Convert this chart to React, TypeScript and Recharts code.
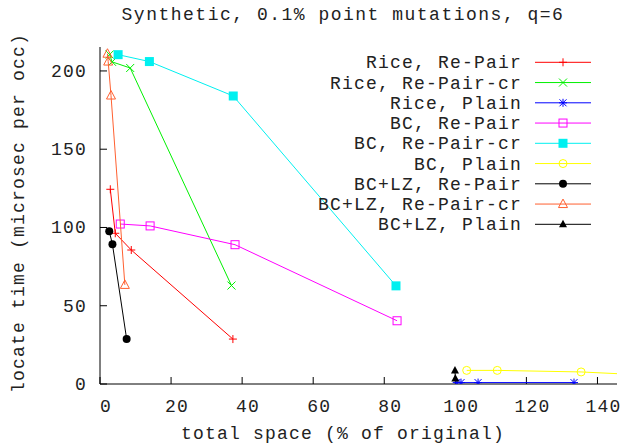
import React from 'react';
import { ScatterChart, Scatter, XAxis, YAxis } from 'recharts';

const FONT = '"Liberation Mono", "DejaVu Sans Mono", monospace';
const FS = 18;
const LS = 1.2;

const riceRePair = [
  { x: 2.9, y: 124.4 }, { x: 4.3, y: 96.3 }, { x: 8.8, y: 85.6 }, { x: 37.4, y: 28.7 },
];
const riceRePairCr = [
  { x: 2.7, y: 210.5 }, { x: 3.4, y: 205.8 }, { x: 8.5, y: 201.9 }, { x: 37.0, y: 62.9 },
];
const ricePlain = [
  { x: 100.4, y: 0.9 }, { x: 101.6, y: 0.9 }, { x: 106.4, y: 0.9 }, { x: 133.4, y: 0.9 },
];
const bcRePair = [
  { x: 5.7, y: 102.2 }, { x: 14.1, y: 101.0 }, { x: 38.0, y: 89.0 }, { x: 83.6, y: 40.4 },
];
const bcRePairCr = [
  { x: 5.1, y: 210.4 }, { x: 13.9, y: 206.0 }, { x: 37.5, y: 184.0 }, { x: 83.3, y: 62.7 },
];
const bcPlain = [
  { x: 103.2, y: 8.7 }, { x: 111.8, y: 8.7 }, { x: 135.4, y: 7.7 }, { x: 165.0, y: 4.5 },
];
const bclzRePair = [
  { x: 2.6, y: 97.6 }, { x: 3.5, y: 89.3 }, { x: 7.5, y: 28.7 },
];
const bclzRePairCr = [
  { x: 2.1, y: 211.0 }, { x: 2.3, y: 206.0 }, { x: 3.1, y: 184.3 }, { x: 7.0, y: 63.3 },
];
const bclzPlain = [
  { x: 99.9, y: 8.7 }, { x: 100.0, y: 3.5 },
];

const xTicks = [0, 20, 40, 60, 80, 100, 120, 140];
const yTicks = [0, 50, 100, 150, 200];

const seriesNames = [
  'Rice, Re-Pair', 'Rice, Re-Pair-cr', 'Rice, Plain',
  'BC, Re-Pair', 'BC, Re-Pair-cr', 'BC, Plain',
  'BC+LZ, Re-Pair', 'BC+LZ, Re-Pair-cr', 'BC+LZ, Plain',
];
const seriesData = [
  riceRePair, riceRePairCr, ricePlain, bcRePair, bcRePairCr, bcPlain,
  bclzRePair, bclzRePairCr, bclzPlain,
];
const seriesColors = [
  '#ff0000', '#00f000', '#0000ff', '#ff00ff', '#00f0f0', '#ffff00',
  '#000000', '#ff6030', '#000000',
];
const seriesMarkers = [
  'plus', 'cross', 'star', 'square', 'squareFilled', 'circle',
  'circleFilled', 'triangle', 'triangleFilled',
];

function Marker({ kind, cx, cy, color }: { kind: string; cx: number; cy: number; color: string }) {
  const s = 4;
  switch (kind) {
    case 'plus':
      return (
        <g stroke={color} strokeWidth={1}>
          <line x1={cx - s} y1={cy} x2={cx + s} y2={cy} />
          <line x1={cx} y1={cy - s} x2={cx} y2={cy + s} />
        </g>
      );
    case 'cross':
      return (
        <g stroke={color} strokeWidth={1}>
          <line x1={cx - s} y1={cy - s} x2={cx + s} y2={cy + s} />
          <line x1={cx - s} y1={cy + s} x2={cx + s} y2={cy - s} />
        </g>
      );
    case 'star':
      return (
        <g stroke={color} strokeWidth={1}>
          <line x1={cx - s} y1={cy} x2={cx + s} y2={cy} />
          <line x1={cx} y1={cy - s} x2={cx} y2={cy + s} />
          <line x1={cx - 3.5} y1={cy - 3.5} x2={cx + 3.5} y2={cy + 3.5} />
          <line x1={cx - 3.5} y1={cy + 3.5} x2={cx + 3.5} y2={cy - 3.5} />
        </g>
      );
    case 'square':
      return <rect x={cx - 4} y={cy - 4} width={8} height={8} fill="none" stroke={color} strokeWidth={1} />;
    case 'squareFilled':
      return <rect x={cx - 4.5} y={cy - 4.5} width={9} height={9} fill={color} stroke="none" />;
    case 'circle':
      return <circle cx={cx} cy={cy} r={4} fill="none" stroke={color} strokeWidth={1} />;
    case 'circleFilled':
      return <circle cx={cx} cy={cy} r={4} fill={color} stroke="none" />;
    case 'triangle':
      return (
        <polygon
          points={`${cx},${cy - 5} ${cx - 4.5},${cy + 3.5} ${cx + 4.5},${cy + 3.5}`}
          fill="none" stroke={color} strokeWidth={1}
        />
      );
    case 'triangleFilled':
      return (
        <polygon
          points={`${cx},${cy - 4.5} ${cx - 4},${cy + 3} ${cx + 4},${cy + 3}`}
          fill={color} stroke="none"
        />
      );
    default:
      return null;
  }
}

const XTick = (props: any) => {
  const { x, y, payload } = props;
  return (
    <text x={x + 6} y={y} dy={13} textAnchor="middle" fontFamily={FONT} fontSize={FS} letterSpacing={LS} fill="#222">
      {payload.value}
    </text>
  );
};

const YTick = (props: any) => {
  const { x, y, payload } = props;
  return (
    <text x={x} y={y} dy={6} textAnchor="end" fontFamily={FONT} fontSize={FS} letterSpacing={LS} fill="#222">
      {payload.value}
    </text>
  );
};

const legendTop = 62.3;
const legendStep = 20.25;

export default function App() {
  return (
    <div style={{ position: 'absolute', left: 0, top: 0, width: 624, height: 444, background: '#fff' }}>
      <ScatterChart width={624} height={444} margin={{ top: 47, right: 7, left: 0, bottom: 0 }}>
        <XAxis
          xAxisId={0}
          type="number"
          dataKey="x"
          domain={[0, 145.5]}
          allowDataOverflow
          ticks={xTicks}
          height={60}
          stroke="#000"
          tickSize={-7}
          tickMargin={22}
          tick={<XTick />}
          interval={0}
        />
        <XAxis
          xAxisId="top"
          orientation="top"
          type="number"
          domain={[0, 145.5]}
          allowDataOverflow
          ticks={xTicks}
          height={0}
          stroke="#000"
          tickSize={-7}
          tick={false}
          interval={0}
        />
        <YAxis
          yAxisId={0}
          type="number"
          dataKey="y"
          domain={[0, 215.3]}
          allowDataOverflow
          ticks={yTicks}
          width={100}
          stroke="#000"
          tickSize={-7}
          tickMargin={20}
          tick={<YTick />}
          interval={0}
        />
        <YAxis
          yAxisId="right"
          orientation="right"
          type="number"
          domain={[0, 215.3]}
          allowDataOverflow
          ticks={yTicks}
          width={0}
          stroke="#000"
          tickSize={-7}
          tick={false}
          interval={0}
        />
        {seriesData.map((d, i) => (
          <Scatter
            key={seriesNames[i]}
            name={seriesNames[i]}
            data={d}
            xAxisId={0}
            yAxisId={0}
            fill={seriesColors[i]}
            line={{ stroke: seriesColors[i], strokeWidth: 1 }}
            isAnimationActive={false}
            shape={(p: any) => <Marker kind={seriesMarkers[i]} cx={p.cx} cy={p.cy} color={seriesColors[i]} />}
          />
        ))}
      </ScatterChart>
      <svg
        width={624}
        height={444}
        style={{ position: 'absolute', left: 0, top: 0, pointerEvents: 'none' }}
      >
        <text x={343} y={20} textAnchor="middle" fontFamily={FONT} fontSize={FS} letterSpacing={LS + 0.3} fill="#222">
          Synthetic, 0.1% point mutations, q=6
        </text>
        <text x={343} y={439} textAnchor="middle" fontFamily={FONT} fontSize={FS} letterSpacing={LS} fill="#222">
          total space (% of original)
        </text>
        <text
          x={0}
          y={0}
          transform="translate(24,213) rotate(-90)"
          textAnchor="middle"
          fontFamily={FONT}
          fontSize={FS}
          letterSpacing={LS}
          fill="#222"
        >
          locate time (microsec per occ)
        </text>
        {seriesNames.map((name, i) => {
          const y = legendTop + i * legendStep;
          return (
            <g key={name}>
              <text x={522} y={y + 6} textAnchor="end" fontFamily={FONT} fontSize={FS} letterSpacing={LS} fill="#222">
                {name}
              </text>
              <line x1={535} y1={y} x2={591} y2={y} stroke={seriesColors[i]} strokeWidth={1} />
              <Marker kind={seriesMarkers[i]} cx={563} cy={y} color={seriesColors[i]} />
            </g>
          );
        })}
      </svg>
    </div>
  );
}
